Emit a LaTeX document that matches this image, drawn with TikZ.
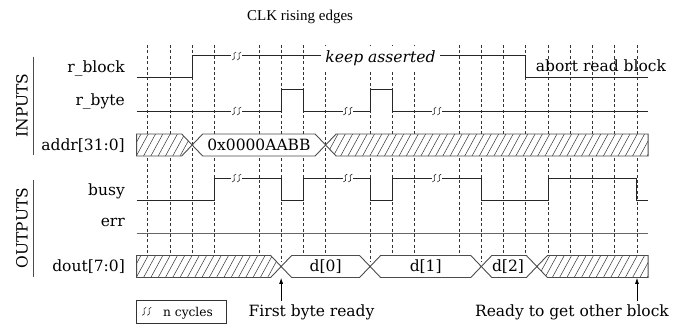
\documentclass[tikz,border=0pt]{standalone}
\usepackage{fontspec}
\setmainfont{DejaVu Serif}
\newfontfamily\titlefont{Liberation Serif}
\usetikzlibrary{arrows.meta}
\newcommand\sigfont{\fontsize{15.5pt}{18pt}\selectfont}
\newcommand\smallsigfont{\fontsize{12.2pt}{14pt}\selectfont}

\tikzset{
  sig/.style={line width=1pt, draw=black!85, line join=miter},
  busedge/.style={line width=0.9pt, draw=black!70},
  hatchln/.style={line width=0.5pt, draw=black!80},
  clkln/.style={line width=0.7pt, draw=black!80, dash pattern=on 3pt off 2.4pt},
  lbl/.style={font=\sigfont, inner sep=0pt, anchor=base east},
  txt/.style={font=\sigfont, inner sep=0pt, anchor=base},
  grp/.style={font=\sigfont, inner sep=0pt, rotate=90},
  grpbar/.style={line width=0.9pt, draw=black!70},
  note/.style={-{Latex[length=6pt,width=4pt]}, line width=0.8pt, draw=black},
  brk/.pic={
    \fill[white] (-5.2pt,-1.7pt) rectangle (5.2pt,1.7pt);
    \foreach \d in {-2.5pt,2.5pt}{
      \draw[line width=0.6pt, black!85, xshift=\d]
        (-2pt,-4pt) .. controls (3.4pt,-3.3pt) and (-3.4pt,3.3pt) .. (2pt,4pt);}
  }
}

% hatched bus segment: #1 outline, #2 top y, #3 bottom y
\newcommand\hatchbus[3]{%
  \fill[white] #1;
  \begin{scope}
    \clip #1;
    \foreach \hx in {-1.5,-1.1718,...,23}
      \draw[hatchln] (\hx,#3) -- ({\hx+0.54},#2);
  \end{scope}
  \draw[busedge] #1;}

% valid-data bus segment between transition centres #1 and #2
\newcommand\valbus[5]{%
  \draw[busedge, fill=white] (#1,#4) -- ({#1+0.472},#3) -- ({#2-0.472},#3)
    -- (#2,#4) -- ({#2-0.472},#5) -- ({#1+0.472},#5) -- cycle;}

\begin{document}
\begin{tikzpicture}[x=22.24pt, y=-1pt]
  \useasboundingbox (-6.6412,0) rectangle (24.2941,329);

  % clock edge markers (no marker at the skipped cycles 4, 9, 13)
  \foreach \k in {0,1,2,3,5,6,7,8,10,11,12,14,15,16,17,18,19,20,21,22}
    \draw[clkln] (\k,45) -- (\k,262);

  \node[font=\titlefont\fontsize{15pt}{17pt}\selectfont, inner sep=0pt, anchor=base]
    (title) at (6.853,20.7) {CLK rising edges};

  % group captions
  \node[grp] (gin) at (-5.652,105.5) {INPUTS};
  \draw[grpbar] (-5.144,56.7) -- (-5.144,155);
  \node[grp] (gout) at (-5.652,228) {OUTPUTS};
  \draw[grpbar] (-5.144,180) -- (-5.144,277);

  % signal names
  \node[lbl] (nblock) at (-1.02,72.7) {r\_block};
  \node[lbl] (nbyte)  at (-1.02,105)  {r\_byte};
  \node[lbl] (naddr)  at (-1.02,150.6) {addr[31:0]};
  \node[lbl] (nbusy)  at (-1.02,195)  {busy};
  \node[lbl] (nerr)   at (-1.02,226.8) {err};
  \node[lbl] (ndout)  at (-1.02,271.6) {dout[7:0]};

  % r_block
  \draw[sig] (-0.5,78) -- (2,78) -- (2,56) -- (17,56) -- (17,78) -- (22.5,78);
  \pic at (4,56) {brk};
  \node[font=\fontsize{15.6pt}{18pt}\selectfont\itshape, fill=white, inner xsep=4pt,
    inner ysep=5pt, anchor=base] (keep) at (10.468,63) {keep asserted};
  \node[txt] (abort) at (20.382,71.7) {abort read block};

  % r_byte
  \draw[sig] (-0.5,111) -- (6,111) -- (6,89) -- (7,89) -- (7,111) -- (10,111)
    -- (10,89) -- (11,89) -- (11,111) -- (22.5,111);
  \foreach \k in {4,9,13} \pic at (\k,111) {brk};

  % addr[31:0]
  \hatchbus{(-0.5,134) -- (1.528,134) -- (2,145) -- (1.528,156) -- (-0.5,156) -- cycle}{134}{156}
  \valbus{2}{8}{134}{145}{156}
  \node[txt] (addrval) at (5,150.6) {0x0000AABB};
  \hatchbus{(8,145) -- (8.472,134) -- (22.5,134) -- (22.5,156) -- (8.472,156) -- cycle}{134}{156}

  % busy
  \draw[sig] (-0.5,200) -- (3,200) -- (3,178) -- (6,178) -- (6,200) -- (7,200)
    -- (7,178) -- (10,178) -- (10,200) -- (11,200) -- (11,178) -- (15,178)
    -- (15,200) -- (18,200) -- (18,178) -- (22,178) -- (22,200) -- (22.5,200);
  \foreach \k in {4,9,13} \pic at (\k,178) {brk};

  % err
  \draw[line width=1.1pt, draw=black!60] (-0.5,233.4) -- (22.5,233.4);

  % dout[7:0]
  \hatchbus{(-0.5,255.5) -- (5.528,255.5) -- (6,266.5) -- (5.528,277.5) -- (-0.5,277.5) -- cycle}{255.5}{277.5}
  \valbus{6}{10}{255.5}{266.5}{277.5}
  \node[txt] (d0) at (8,271.6) {d[0]};
  \valbus{10}{15}{255.5}{266.5}{277.5}
  \node[txt] (d1) at (12.5,271.6) {d[1]};
  \valbus{15}{17.5}{255.5}{266.5}{277.5}
  \node[txt] (d2) at (16.2,271.6) {d[2]};
  \hatchbus{(17.5,266.5) -- (17.972,255.5) -- (22.5,255.5) -- (22.5,277.5) -- (17.972,277.5) -- cycle}{255.5}{277.5}

  % annotations
  \node[txt] (firstrdy) at (7.365,316.7) {First byte ready};
  \coordinate (firstfoot) at (6,300.5);
  \coordinate (firsthead) at (6,277.8);
  \draw[note] (firstfoot) -- (firsthead);
  \node[txt] (nextrdy) at (19.078,316.7) {Ready to get other block};
  \coordinate (nextfoot) at (22,300.5);
  \coordinate (nexthead) at (22,277.8);
  \draw[note] (nextfoot) -- (nexthead);

  % legend
  \node[draw=black!80, line width=0.8pt, minimum width=90pt, minimum height=23.3pt,
    inner sep=0pt] (legend) at (1.5287,311.65) {};
  \pic at (-0.045,311.3) {brk};
  \node[font=\smallsigfont, inner sep=0pt, anchor=base west] (legtxt) at (0.688,316.5) {n cycles};
\end{tikzpicture}
\end{document}
